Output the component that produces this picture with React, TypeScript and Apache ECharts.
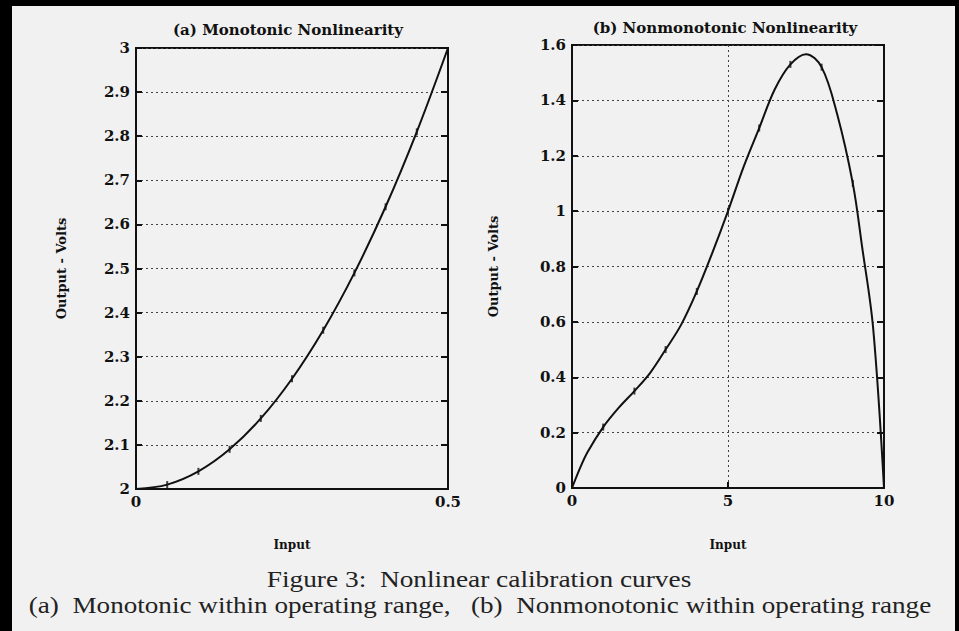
import React, { useEffect, useRef } from "react";
import * as echarts from "echarts";

// ---- data ----
const aInput = [0, 0.05, 0.1, 0.15, 0.2, 0.25, 0.3, 0.35, 0.4, 0.45, 0.5];
const aOutput = [2.0, 2.01, 2.04, 2.09, 2.16, 2.25, 2.36, 2.49, 2.64, 2.81, 3.0];
const aMarkInput = [0.05, 0.1, 0.15, 0.2, 0.25, 0.3, 0.35, 0.4, 0.45];

const bInput = [0, 0.25, 0.5, 1, 1.5, 2, 2.5, 3, 3.5, 4, 4.5, 5, 5.5, 6, 6.5, 7, 7.5, 8, 8.5, 9, 9.3, 9.65, 10];
const bOutput = [0, 0.07, 0.13, 0.22, 0.29, 0.35, 0.415, 0.5, 0.59, 0.71, 0.85, 1.0, 1.16, 1.3, 1.44, 1.53, 1.567, 1.52, 1.35, 1.1, 0.87, 0.58, 0];
const bMarkInput = [1, 2, 3, 4, 5, 6, 7, 8, 9];

const panelTitles = ["(a) Monotonic Nonlinearity", "(b) Nonmonotonic Nonlinearity"];
const xAxisTitle = "Input";
const yAxisTitle = "Output - Volts";
const captionLines = [
  "Figure 3:  Nonlinear calibration curves",
  "(a)  Monotonic within operating range,   (b)  Nonmonotonic within operating range",
];

const OX = 12;
const OY = 6;
const BOLD = "DejaVu Serif";
const INK = "#111";
const BG = "#f1f1f1";

function pairs(xs: number[], ys: number[]) {
  return xs.map((x, i) => [x, ys[i]]);
}
function marks(mx: number[], xs: number[], ys: number[]) {
  return mx.map((x) => [x, ys[xs.indexOf(x)]]);
}

const gridLine = { show: true, lineStyle: { color: "#444", width: 1, type: [2, 3] as any } };
const axisLabelStyle = { color: INK, fontFamily: BOLD, fontWeight: "bold" as const, fontSize: 15 };
const nameStyle = { color: INK, fontFamily: BOLD, fontWeight: "bold" as const, fontSize: 12 };

function buildOption() {
  const grids = [
    { left: 136 - OX, top: 48 - OY, width: 312, height: 441 },
    { left: 572 - OX, top: 45 - OY, width: 312, height: 443 },
  ];
  const xAxes = [
    { min: 0, max: 0.5, interval: 0.5, nameGap: 50 },
    { min: 0, max: 10, interval: 5, nameGap: 51 },
  ].map((a, i) => ({
    type: "value",
    gridIndex: i,
    min: a.min,
    max: a.max,
    interval: a.interval,
    name: xAxisTitle,
    nameLocation: "middle",
    nameGap: a.nameGap,
    nameTextStyle: nameStyle,
    axisLine: { show: true, lineStyle: { color: INK, width: 2 } },
    axisTick: { show: true, inside: true, length: 6, lineStyle: { color: INK, width: 2 } },
    axisLabel: { ...axisLabelStyle, margin: 5 },
    splitLine: gridLine,
  }));
  const yDefs = [
    { grid: 0, min: 2, max: 3, interval: 0.1, gap: 68 },
    { grid: 1, min: 0, max: 1.6, interval: 0.2, gap: 72 },
  ];
  const yAxes: any[] = [];
  yDefs.forEach((d) => {
    yAxes.push({
      type: "value",
      gridIndex: d.grid,
      min: d.min,
      max: d.max,
      interval: d.interval,
      position: "left",
      name: yAxisTitle,
      nameLocation: "middle",
      nameGap: d.gap,
      nameTextStyle: { ...nameStyle, fontSize: 13 },
      axisLine: { show: true, lineStyle: { color: INK, width: 2 } },
      axisTick: { show: true, inside: true, length: 6, lineStyle: { color: INK, width: 2 } },
      axisLabel: { ...axisLabelStyle, margin: 6 },
      splitLine: gridLine,
    });
    yAxes.push({
      type: "value",
      gridIndex: d.grid,
      min: d.min,
      max: d.max,
      interval: d.interval,
      position: "right",
      axisLine: { show: true, lineStyle: { color: INK, width: 2 } },
      axisTick: { show: true, inside: true, length: 7, lineStyle: { color: INK, width: 2 } },
      axisLabel: { show: false },
      splitLine: { show: false },
    });
  });

  const curve = (xi: number, yi: number, data: number[][]) => ({
    type: "line",
    xAxisIndex: xi,
    yAxisIndex: yi,
    data,
    smooth: 0.35,
    showSymbol: false,
    lineStyle: { color: INK, width: 2 },
    z: 5,
  });
  const markSeries = (xi: number, yi: number, data: number[][]) => ({
    type: "scatter",
    xAxisIndex: xi,
    yAxisIndex: yi,
    data,
    symbol: "rect",
    symbolSize: [2, 7],
    itemStyle: { color: INK },
    z: 6,
  });

  return {
    animation: false,
    backgroundColor: BG,
    grid: grids.map((g) => ({ ...g, show: true, borderColor: INK, borderWidth: 2, backgroundColor: "transparent" })),
    xAxis: xAxes,
    yAxis: yAxes,
    series: [
      curve(0, 0, pairs(aInput, aOutput)),
      markSeries(0, 0, marks(aMarkInput, aInput, aOutput)),
      curve(1, 2, pairs(bInput, bOutput)),
      markSeries(1, 2, marks(bMarkInput, bInput, bOutput)),
    ],
    graphic: [
      {
        type: "text",
        x: 288 - OX,
        y: 30 - OY,
        style: { text: panelTitles[0], fill: INK, font: `bold 15px "${BOLD}"`, textAlign: "center", textVerticalAlign: "middle" },
      },
      {
        type: "text",
        x: 725 - OX,
        y: 28 - OY,
        style: { text: panelTitles[1], fill: INK, font: `bold 15px "${BOLD}"`, textAlign: "center", textVerticalAlign: "middle" },
      },
      {
        type: "text",
        x: 479 - OX,
        y: 579 - OY,
        scaleX: 1.19,
        style: { text: captionLines[0], fill: "#222", font: `23px "Liberation Serif"`, textAlign: "center", textVerticalAlign: "middle" },
      },
      {
        type: "text",
        x: 480 - OX,
        y: 605 - OY,
        scaleX: 1.18,
        style: { text: captionLines[1], fill: "#222", font: `23px "Liberation Serif"`, textAlign: "center", textVerticalAlign: "middle" },
      },
    ],
  };
}

export default function App() {
  const ref = useRef<HTMLDivElement>(null);
  useEffect(() => {
    const chart = echarts.init(ref.current!, null, { renderer: "svg" });
    chart.setOption(buildOption() as any);
    return () => chart.dispose();
  }, []);
  return (
    <div style={{ position: "fixed", left: 0, top: 0, width: 959, height: 631, background: "#000" }}>
      <div ref={ref} style={{ position: "absolute", left: OX, top: OY, width: 959 - OX - 4, height: 631 - OY }} />
    </div>
  );
}
